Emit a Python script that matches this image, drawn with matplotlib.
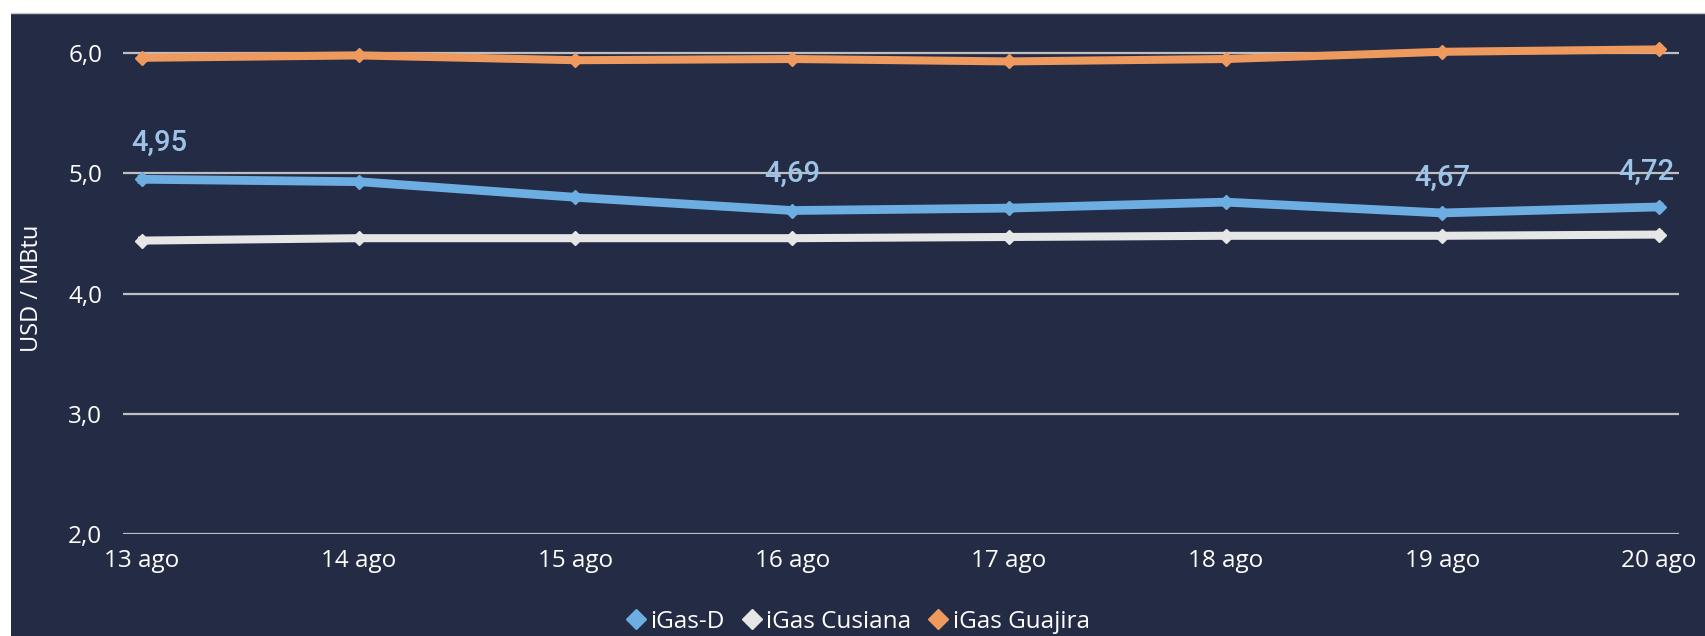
import matplotlib.pyplot as plt
from matplotlib.patches import Rectangle
from matplotlib.lines import Line2D
from matplotlib.ticker import FuncFormatter

# data
dias = ["13 ago", "14 ago", "15 ago", "16 ago", "17 ago", "18 ago", "19 ago", "20 ago"]
igas_d = [4.95, 4.93, 4.80, 4.69, 4.71, 4.76, 4.67, 4.72]
igas_cusiana = [4.44, 4.46, 4.46, 4.46, 4.47, 4.48, 4.48, 4.49]
igas_guajira = [5.96, 5.98, 5.94, 5.95, 5.93, 5.95, 6.01, 6.03]
etiquetas = [0, 3, 6, 7]  # points of iGas-D that carry a value label

bg = "#242b45"
c_d = "#6caee2"
c_cus = "#e6e6e6"
c_gua = "#ee9a5e"
c_lbl = "#9dc3e6"
W, H = 1705, 636

plt.rcParams["font.family"] = ["Open Sans", "DejaVu Sans"]

fig = plt.figure(figsize=(W / 100, H / 100), dpi=100, facecolor="white")
# dark panel (white margin left and top)
fig.patches.append(Rectangle((11 / W, 0), 1 - 11 / W, 1 - 13 / H,
                             transform=fig.transFigure, facecolor=bg,
                             edgecolor="none", zorder=-2))
fig.add_artist(Line2D([11 / W, 1], [1 - 13 / H, 1 - 13 / H],
                      transform=fig.transFigure, color="#c8c8c8", lw=1, zorder=-1))

ax = fig.add_axes([123 / W, 1 - 534 / H, (1679 - 123) / W, (534 - 13) / H])
ax.set_facecolor("none")
for s in ax.spines.values():
    s.set_visible(False)

x = list(range(len(dias)))
ax.plot(x, igas_guajira, color=c_gua, lw=5.8, marker="D", ms=7.5, zorder=3, solid_joinstyle="miter")
ax.plot(x, igas_d, color=c_d, lw=6.3, marker="D", ms=7.5, zorder=4, solid_joinstyle="miter")
ax.plot(x, igas_cusiana, color=c_cus, lw=5.8, marker="D", ms=7.5, zorder=3, solid_joinstyle="miter")

offs = {0: (17, 36), 3: (0, 37), 6: (0, 35), 7: (-13, 35)}
for i in etiquetas:
    ax.annotate(f"{igas_d[i]:.2f}".replace(".", ","), (i, igas_d[i]),
                xytext=offs[i], textcoords="offset pixels", ha="center", va="center",
                color=c_lbl, fontsize=21, fontweight="medium",
                family=["Roboto", "DejaVu Sans"], zorder=5)

ax.set_xlim(-19 / 216.7, 7 + 20 / 216.7)
ax.set_ylim(2, 6 + 40 / 120.25)
ax.set_yticks([2, 3, 4, 5, 6])
ax.yaxis.set_major_formatter(FuncFormatter(lambda v, p: f"{v:.1f}".replace(".", ",")))
ax.set_xticks(x)
ax.set_xticklabels(dias)
ax.grid(axis="y", color="#bfbfbf", lw=1.6, zorder=1)
ax.set_axisbelow(True)
ax.tick_params(axis="both", length=0, colors="white", labelsize=17.5)
ax.tick_params(axis="y", pad=15)
ax.tick_params(axis="x", pad=11)

fig.text(32 / W, 1 - 288 / H, "USD / MBtu", rotation=90, color="white",
         fontsize=17, ha="center", va="center")

handles = [Line2D([], [], ls="none", marker="D", ms=10, color=c) for c in (c_d, c_cus, c_gua)]
leg = fig.legend(handles, ["iGas-D", "iGas Cusiana", "iGas Guajira"], ncol=3,
                 loc="center", bbox_to_anchor=(858 / W, 1 - 622 / H), frameon=False,
                 handlelength=0.8, handletextpad=0.2, columnspacing=0.7,
                 fontsize=17.5, labelcolor="white")

fig.savefig("out.png", dpi=100, facecolor="white")
